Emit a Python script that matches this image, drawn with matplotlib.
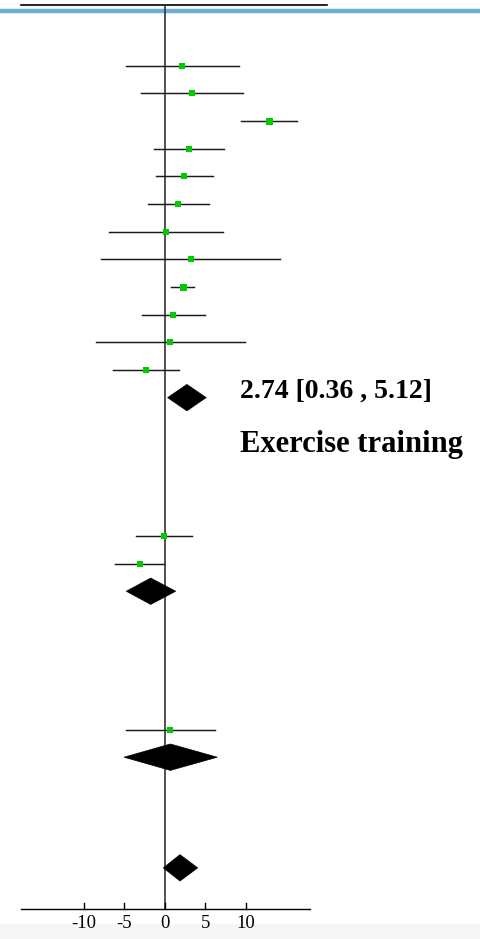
import matplotlib
matplotlib.use("Agg")
import matplotlib.pyplot as plt
from matplotlib.patches import Polygon

# Study-level effects (mean difference) with 95% CI, three subgroups
grp1_est = [2.17, 3.41, 12.84, 3.00, 2.42, 1.68, 0.12, 3.21, 2.22, 1.06, 0.70, -2.31]
grp1_lo = [-4.78, -2.93, 9.42, -1.36, -1.11, -2.06, -6.88, -7.82, 0.82, -2.84, -8.52, -6.38]
grp1_hi = [9.17, 9.70, 16.30, 7.36, 5.93, 5.47, 7.16, 14.23, 3.65, 5.01, 9.95, 1.80]
grp1_wt = [6.0, 6.0, 7.0, 6.5, 6.5, 6.5, 5.5, 5.5, 7.0, 6.0, 5.5, 6.5]

grp2_est = [-0.09, -3.09]
grp2_lo = [-3.54, -6.14]
grp2_hi = [3.33, -0.05]
grp2_wt = [6.5, 6.0]

grp3_est = [0.70]
grp3_lo = [-4.78]
grp3_hi = [6.21]
grp3_wt = [6.0]

# Pooled estimates: subgroup 1, subgroup 2, subgroup 3, overall
pooled_est = [2.74, -1.73, 0.70, 1.89]
pooled_lo = [0.36, -4.74, -5.02, -0.17]
pooled_hi = [5.12, 1.36, 6.49, 4.07]

tick_values = [-10, -5, 0, 5, 10]
tick_labels = ["-10", "-5", "0", "5", "10"]
summary_label = "2.74 [0.36 , 5.12]"
group_label = "Exercise training"

W, H, DPI = 481, 939, 100
fig = plt.figure(figsize=(W / DPI, H / DPI), dpi=DPI)
ax = fig.add_axes([0, 0, 1, 1])
ax.set_axis_off()

# data <-> pixel layout: 8.1 px per unit, zero at x=164.7; rows 27.66 px apart
px_per_unit, x0 = 8.1, 164.7
row_h, y0 = 27.66, 65.7
ax.set_xlim(-x0 / px_per_unit, (W - x0) / px_per_unit)
ax.set_ylim((H - y0) / row_h, -y0 / row_h)

serif = ["Liberation Serif", "DejaVu Serif"]

rows1 = list(range(0, 12))
rows2 = [17, 18]
rows3 = [24]
pooled_rows = [12, 19, 25, 29]

axis_row = 30.49
top_row = -2.18
blue_row = -1.98

# light band at the very bottom
ax.axhspan((924 - y0) / row_h, (H - y0) / row_h, color="#f6f6f6", zorder=0, lw=0)

# header rules
ax.axhline(blue_row, color="#6aaed6", lw=3.2, zorder=1)
ax.plot([-17.74, 20.07], [top_row, top_row], color="black", lw=1.2, zorder=2)

# no-effect line
ax.plot([0, 0], [top_row, axis_row], color="#333333", lw=1.2, zorder=3)


def draw_studies(rows, est, lo, hi, wt):
    for r, e, l, h, w in zip(rows, est, lo, hi, wt):
        ax.plot([l, h], [r, r], color="#1a1a1a", lw=1.05, zorder=4)
        ax.plot([e], [r], marker="s", color="#00cc00", markersize=w * 0.72,
                markeredgewidth=0, zorder=5)


draw_studies(rows1, grp1_est, grp1_lo, grp1_hi, grp1_wt)
draw_studies(rows2, grp2_est, grp2_lo, grp2_hi, grp2_wt)
draw_studies(rows3, grp3_est, grp3_lo, grp3_hi, grp3_wt)

half_h = 13.2 / row_h
for r, e, l, h in zip(pooled_rows, pooled_est, pooled_lo, pooled_hi):
    ax.add_patch(Polygon([[l, r], [e, r - half_h], [h, r], [e, r + half_h]],
                         closed=True, facecolor="black", edgecolor="black",
                         lw=0.5, zorder=6))

# bottom axis
ax.plot([-17.74, 17.94], [axis_row, axis_row], color="black", lw=1.0, zorder=4)
tick_len = 6 / row_h
for v, lab in zip(tick_values, tick_labels):
    ax.plot([v, v], [axis_row, axis_row - tick_len], color="black", lw=1.0, zorder=4)
    ax.text(v, (923 - y0) / row_h, lab, ha="center", va="center",
            fontsize=13.5, family=serif, color="black")

# summary annotation
ax.text(9.3, pooled_rows[0], summary_label, ha="left", va="baseline",
        fontsize=20.0, fontweight="bold", family=serif, color="black")
ax.text(9.3, 13.97, group_label, ha="left", va="baseline",
        fontsize=22.0, fontweight="bold", family=serif, color="black")

fig.savefig("out.png", dpi=DPI)
